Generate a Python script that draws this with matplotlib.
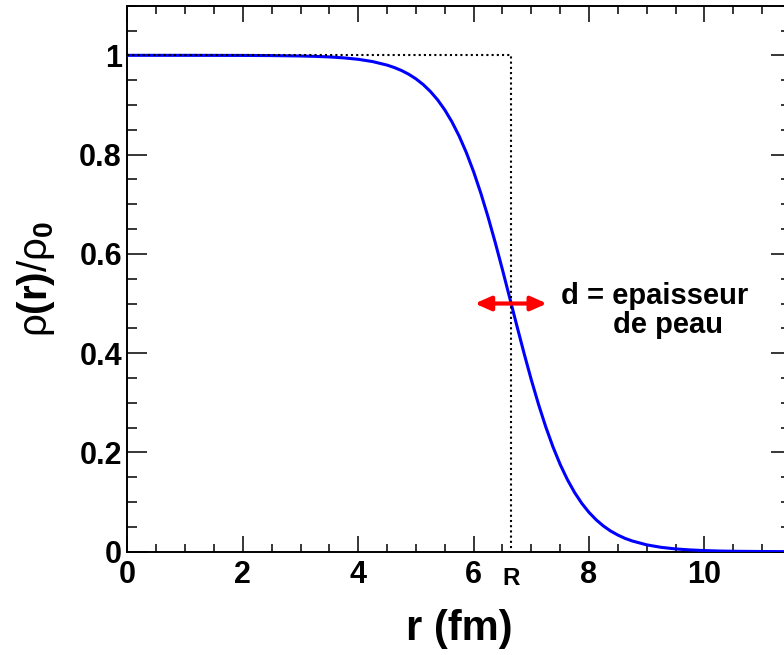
import matplotlib
matplotlib.use('Agg')
import matplotlib.pyplot as plt
from matplotlib.patches import FancyArrowPatch
from matplotlib.ticker import MultipleLocator

# Woods-Saxon density profile, rho(r)/rho0 vs r (fm)
r_fm = [0.0, 1.0, 2.0, 2.5, 3.0, 3.25, 3.5, 3.75, 4.0, 4.25,
        4.5, 4.625, 4.75, 4.875, 5.0, 5.125, 5.25, 5.375, 5.5, 5.625,
        5.75, 5.875, 6.0, 6.125, 6.25, 6.375, 6.5, 6.625, 6.75, 6.875,
        7.0, 7.125, 7.25, 7.375, 7.5, 7.625, 7.75, 7.875, 8.0, 8.125,
        8.25, 8.375, 8.5, 8.625, 8.75, 9.0, 9.25, 9.5, 9.75, 10.0,
        10.25, 10.5, 11.0, 11.5]
rho_ratio = [1.0, 1.0, 0.9998, 0.9995, 0.9987, 0.9979, 0.9968, 0.9949, 0.9920, 0.9874,
             0.9803, 0.9754, 0.9694, 0.9619, 0.9526, 0.9412, 0.9272, 0.9104, 0.8900, 0.8657,
             0.8370, 0.8036, 0.7653, 0.7220, 0.6742, 0.6225, 0.5678, 0.5114, 0.4547, 0.3991,
             0.3460, 0.2966, 0.2514, 0.2111, 0.1757, 0.1452, 0.1192, 0.0973, 0.0791, 0.0641,
             0.0517, 0.0416, 0.0335, 0.0268, 0.0216, 0.0138, 0.0088, 0.0056, 0.0036, 0.0023,
             0.0014, 0.0009, 0.0004, 0.0001]

R_fm = 6.65            # half-density radius
d_span = (6.02, 7.27)  # skin thickness arrow

x_ticks = [0, 2, 4, 6, 8, 10]
x_tick_labels = ['0', '2', '4', '6', '8', '10']
y_ticks = [0, 0.2, 0.4, 0.6, 0.8, 1.0]
y_tick_labels = ['0', '0.2', '0.4', '0.6', '0.8', '1']

plt.rcParams['font.family'] = ['Liberation Sans', 'DejaVu Sans']
plt.rcParams['font.weight'] = 'bold'
plt.rcParams['mathtext.fontset'] = 'custom'
plt.rcParams['mathtext.rm'] = 'Liberation Sans:regular'
plt.rcParams['mathtext.bf'] = 'Liberation Sans:bold'
plt.rcParams['mathtext.it'] = 'Liberation Sans:italic'

fig = plt.figure(figsize=(7.84, 6.55), dpi=100)
ax = fig.add_axes([0.1626, 0.1577, 0.8463, 0.8336])

ax.plot(r_fm, rho_ratio, color='#0000ff', lw=2.2, zorder=3,
        solid_joinstyle='round')
# sharp-edge (hard sphere) profile
ax.plot([0, R_fm, R_fm], [1, 1, 0], color='k', ls=(0, (1, 1.5)), lw=1.5, zorder=4)

arr = FancyArrowPatch((d_span[0], 0.5), (d_span[1], 0.5),
                      arrowstyle='<|-|>,head_length=0.95,head_width=0.42',
                      mutation_scale=10, color='red', lw=3,
                      shrinkA=0, shrinkB=0, zorder=5)
ax.add_patch(arr)

ax.text(7.51, 0.5, 'd = epaisseur', fontsize=21, fontweight='bold',
        ha='left', va='baseline')
ax.text(8.41, 0.44, 'de peau', fontsize=21, fontweight='bold',
        ha='left', va='baseline')
ax.text(R_fm, -0.053, 'R', fontsize=17.5, fontweight='bold',
        ha='center', va='center', clip_on=False)

ax.set_xlim(0, 11.5)
ax.set_ylim(0, 1.1)
ax.set_xticks(x_ticks)
ax.set_xticklabels(x_tick_labels)
ax.set_yticks(y_ticks)
ax.set_yticklabels(y_tick_labels)
ax.xaxis.set_minor_locator(MultipleLocator(0.5))
ax.yaxis.set_minor_locator(MultipleLocator(0.05))

ax.tick_params(which='both', direction='in', top=True, right=True,
               labelsize=22, width=1.1, color='k')
ax.tick_params(axis='x', which='major', length=11.5, pad=6)
ax.tick_params(axis='x', which='minor', length=5.8)
ax.tick_params(axis='y', which='major', length=14.4, pad=4)
ax.tick_params(axis='y', which='minor', length=7.2)
for s in ax.spines.values():
    s.set_linewidth(1.4)

ax.set_xlabel('r (fm)', fontsize=30, fontweight='bold', labelpad=14)
ax.set_ylabel(r'$\mathrm{\rho}\mathbf{(r)}/\mathrm{\rho}_{\mathbf{0}}$',
              fontsize=29, labelpad=16)

fig.savefig('out.png', dpi=100)
